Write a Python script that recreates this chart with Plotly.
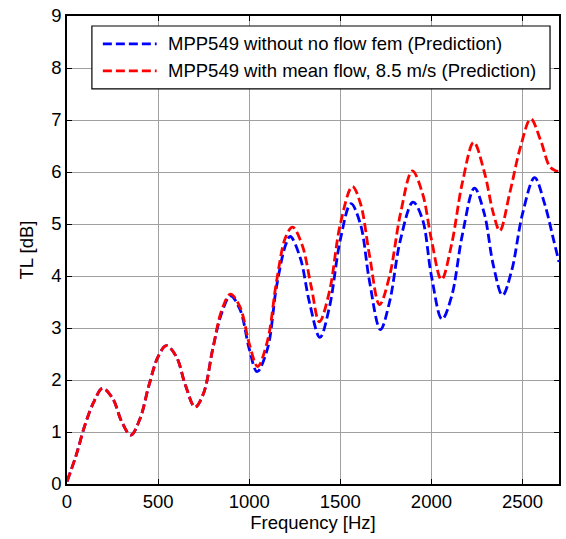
import plotly.graph_objects as go

freq_blue = [0, 50, 100, 150, 195, 250, 300, 350, 400, 450, 500, 545, 600, 650, 703, 750, 800, 850, 897,
             950, 1000, 1043, 1100, 1150, 1200, 1225, 1280, 1330, 1388, 1440, 1500, 1558, 1610, 1660, 1720,
             1770, 1830, 1899, 1950, 2000, 2058, 2110, 2170, 2236, 2290, 2340, 2390, 2440, 2500, 2566, 2620,
             2670, 2700]
tl_blue = [0.05, 0.55, 1.15, 1.6, 1.84, 1.65, 1.2, 0.94, 1.25, 1.9, 2.45, 2.66, 2.45, 1.9, 1.48, 1.75, 2.6,
           3.3, 3.62, 3.35, 2.6, 2.16, 2.6, 3.8, 4.6, 4.76, 4.35, 3.5, 2.82, 3.4, 4.7, 5.39, 5.0, 3.9, 2.97,
           3.5, 4.7, 5.42, 5.1, 4.0, 3.17, 3.6, 4.8, 5.69, 5.2, 4.2, 3.63, 4.1, 5.2, 5.89, 5.4, 4.7, 4.27]

freq_red = [0, 50, 100, 150, 195, 250, 300, 350, 400, 450, 500, 545, 600, 650, 703, 750, 800, 850, 897,
            950, 1000, 1046, 1100, 1150, 1200, 1238, 1290, 1340, 1385, 1440, 1500, 1566, 1610, 1660, 1715,
            1770, 1830, 1895, 1950, 2000, 2055, 2110, 2170, 2232, 2290, 2340, 2375, 2430, 2490, 2545, 2600,
            2650, 2685, 2700]
tl_red = [0.05, 0.55, 1.15, 1.6, 1.84, 1.65, 1.2, 0.94, 1.25, 1.9, 2.45, 2.66, 2.45, 1.9, 1.48, 1.75, 2.6,
          3.35, 3.65, 3.4, 2.7, 2.26, 2.75, 3.9, 4.75, 4.94, 4.6, 3.8, 3.12, 3.7, 5.0, 5.72, 5.4, 4.4, 3.45,
          4.0, 5.2, 6.02, 5.6, 4.7, 3.93, 4.6, 5.8, 6.57, 6.0, 5.2, 4.87, 5.6, 6.5, 7.02, 6.6, 6.1, 6.02, 6.0]

series_names = ["MPP549 without no flow fem (Prediction)", "MPP549 with mean flow, 8.5 m/s (Prediction)"]
series_colors = ["#0000ff", "#ff0000"]

x_ticks = [0, 500, 1000, 1500, 2000, 2500]
y_ticks = list(range(0, 10))

FONT = "Liberation Sans, Arial"
FS = 18.5
DASH = "9px,4px"
LW = 2.8

fig = go.Figure()
for xs, ys, nm, col in [(freq_blue, tl_blue, series_names[0], series_colors[0]),
                        (freq_red, tl_red, series_names[1], series_colors[1])]:
    fig.add_trace(go.Scatter(x=xs, y=ys, mode="lines", name=nm, showlegend=False,
                             line=dict(color=col, width=LW, dash=DASH, shape="spline", smoothing=1.0)))

axis_common = dict(
    showline=True, linecolor="black", linewidth=1.5, mirror="ticks",
    ticks="inside", ticklen=5, tickcolor="black", tickwidth=1,
    showgrid=True, gridcolor="#a0a0a0", gridwidth=1, zeroline=False,
    tickfont=dict(family=FONT, size=FS, color="black"),
)

# Manual legend (paper coordinates of the plot area)
L, R, T, B = 67, 561, 15, 484
def px(xp):
    return (xp - L) / (R - L)
def py(yp):
    return (B - yp) / (B - T)

fig.add_shape(type="rect", xref="paper", yref="paper",
              x0=px(92), x1=px(552), y0=py(88), y1=py(25),
              line=dict(color="black", width=1.2), fillcolor="white", layer="above")
for i, (nm, col) in enumerate(zip(series_names, series_colors)):
    yrow = 43 + i * 27
    fig.add_shape(type="line", xref="paper", yref="paper",
                  x0=px(103), x1=px(157), y0=py(yrow), y1=py(yrow),
                  line=dict(color=col, width=LW, dash=DASH), layer="above")
    fig.add_annotation(xref="paper", yref="paper", x=px(166), y=py(yrow),
                       xanchor="left", yanchor="middle", showarrow=False,
                       text=nm, font=dict(family=FONT, size=FS, color="black"))

fig.update_layout(
    width=566, height=539,
    margin=dict(l=67, r=5, t=15, b=55),
    paper_bgcolor="white", plot_bgcolor="white",
    font=dict(family=FONT, color="black"),
    xaxis=dict(range=[0, 2700], tickvals=x_ticks,
               title=dict(text="Frequency [Hz]", font=dict(size=FS), standoff=3), **axis_common),
    yaxis=dict(range=[0, 9], tickvals=y_ticks,
               title=dict(text="TL [dB]", font=dict(size=FS), standoff=13), **axis_common),
    showlegend=False,
)

fig.write_html("out.html")
